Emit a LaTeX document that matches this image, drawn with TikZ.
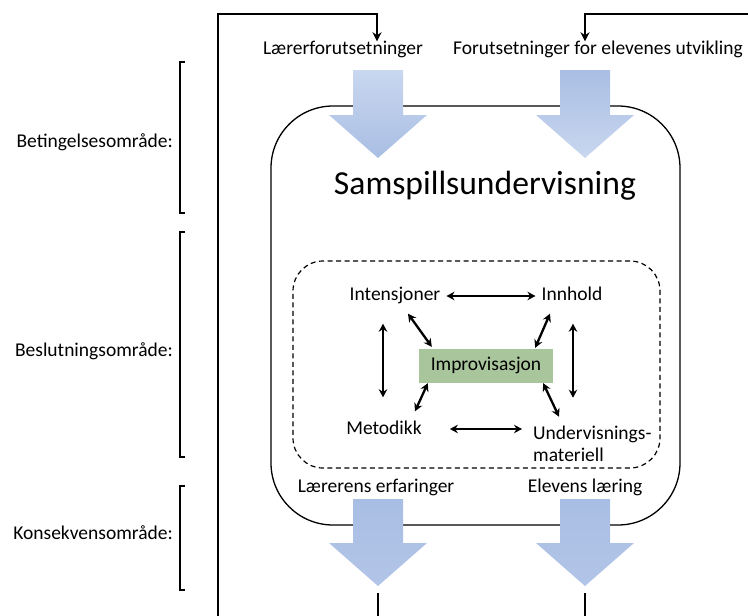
\documentclass[tikz,border=0pt]{standalone}
\usepackage{fontspec}
\setmainfont{Carlito}
\usetikzlibrary{arrows.meta,calc}

\definecolor{arrowlight}{HTML}{C9D7EF}
\definecolor{arrowdark}{HTML}{A9BEE4}
\definecolor{arrowmid}{HTML}{B2C5E8}
\definecolor{impgreen}{HTML}{A9C59C}

\tikzset{
  lbl/.style={inner sep=0pt, text height=13pt, text depth=4pt,
              font=\fontsize{19.5}{23.5}\selectfont},
  dbl/.style={line width=2.3pt, {Stealth[length=8pt,width=8.5pt]}-{Stealth[length=8pt,width=8.5pt]}},
  loop/.style={line width=1.5pt},
  loopend/.style={line width=1.5pt, -{Stealth[length=9pt,width=9pt]}},
  bracket/.style={line width=1.2pt},
}

% block arrow pointing down: centre x, top, head base, top colour, bottom colour
\newcommand{\blockarrow}[5]{%
  \shade[top color=#4, bottom color=#5]
    (#1-25,#2) -- (#1+25,#2) -- (#1+25,#3) -- (#1+49,#3) --
    (#1,#3+43) -- (#1-49,#3) -- (#1-25,#3) -- cycle;}

\begin{document}
\begin{tikzpicture}[x=1pt,y=-1pt]
\useasboundingbox (0,0) rectangle (748,616);
\clip (0,0) rectangle (748,616);

% outer frame with the title
\node[draw, line width=1.3pt, rounded corners=62pt, minimum width=409pt,
      minimum height=419pt, inner sep=0pt] (frame) at (475.5,315.5) {};
\node[inner sep=0pt, font=\fontsize{33.6}{40}\selectfont] (title) at (485,186) {Samspillsundervisning};

% decision area
\node[draw, dash pattern=on 5pt off 3.5pt, line width=1.2pt, rounded corners=30pt,
      minimum width=367pt, minimum height=207pt, inner sep=0pt] (dec) at (476.5,364.5) {};

% block arrows into and out of the frame
\blockarrow{378}{70}{115}{arrowlight}{arrowdark}
\blockarrow{585}{70}{115}{arrowdark}{arrowlight}
\blockarrow{378}{499}{543}{arrowdark}{arrowmid}
\blockarrow{585}{499}{543}{arrowdark}{arrowmid}

% top labels
\node[lbl] (lf) at (343,50) {Lærerforutsetninger};
\node[lbl] (ef) at (598,50) {Forutsetninger for elevenes utvikling};
% bottom labels
\node[lbl] (le) at (376,488) {Lærerens erfaringer};
\node[lbl] (el) at (585,488) {Elevens læring};

% inner model
\node[lbl] (int) at (395,296) {Intensjoner};
\node[lbl] (inn) at (572,296) {Innhold};
\node[lbl, fill=impgreen, minimum width=134pt, minimum height=34pt] (imp) at (486,366) {Improvisasjon};
\node[lbl] (met) at (384,430) {Metodikk};
\node[inner sep=0pt, align=left, anchor=west,
      font=\fontsize{19.5}{22.5}\selectfont] (und) at (533,444) {Undervisnings-\\materiell};

\draw[dbl] ([xshift=6pt]int.east) -- ([xshift=-6pt]inn.west);
\draw[dbl] ($(met.east)+(28,-1)$) -- ($(met.east -| und.west)+(-11,-1)$);
\draw[dbl] ($(int.south)+(-12,19)$) -- ($(met.north)+(-1,-24)$);
\draw[dbl] ($(inn.south)+(1,19)$) -- ($(inn.south)+(1,93)$);
\draw[dbl] ($(int.south)+(13,9)$) -- ($(imp.north west)+(13,-2)$);
\draw[dbl] ($(inn.south)+(-22,9)$) -- ($(imp.north east)+(-18,-1)$);
\draw[dbl] ($(imp.south west)+(9,0)$) -- ($(met.north)+(31,-10)$);
\draw[dbl] ($(imp.south east)+(-10,0)$) -- ($(und.north west)+(26,-9)$);

% feedback loops
\coordinate (loopL) at (218,640);
\coordinate (loopR) at (760,14);
\coordinate (cornL) at (377,14);
\coordinate (cornR) at (585,14);
\draw[loopend] (loopL) |- (cornL) -- (cornL |- lf.north);
\draw[loopend] (loopR) -- (cornR) -- (cornR |- ef.north);
\coordinate (outL) at (378,593);
\coordinate (outR) at (585,593);
\draw[loop] (outL) -- (outL |- 0,640);
\draw[loop] (outR) -- (outR |- 0,640);

% area brackets with labels
\draw[bracket] (185,62) -- (180,62) -- (180,213) -- (185,213);
\draw[bracket] (185,232) -- (180,232) -- (180,457) -- (185,457);
\draw[bracket] (185,486) -- (180,486) -- (180,590) -- (185,590);
\node[lbl, anchor=east] (b1) at (173,143) {Betingelsesområde:};
\node[lbl, anchor=east] (b2) at (173,352) {Beslutningsområde:};
\node[lbl, anchor=east] (b3) at (173,535) {Konsekvensområde:};
\end{tikzpicture}
\end{document}
